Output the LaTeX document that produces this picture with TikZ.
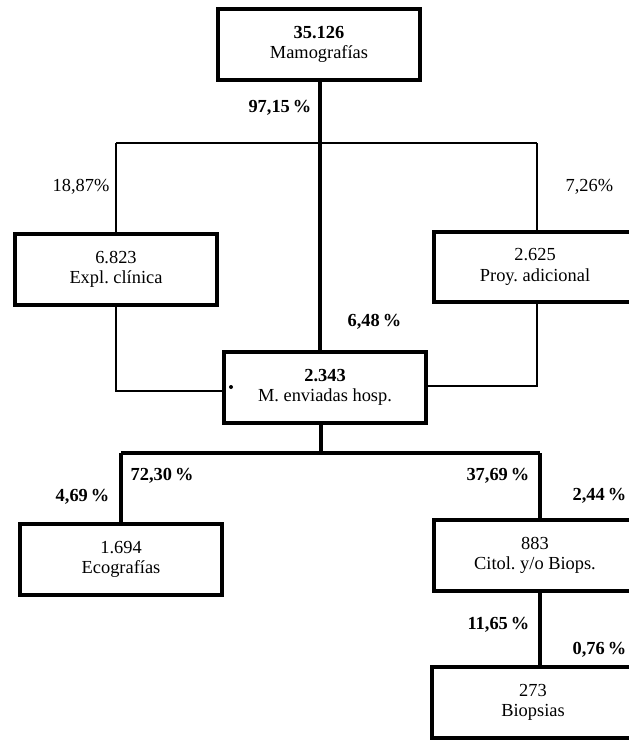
\documentclass[tikz,border=0pt]{standalone}
\usepackage{fontspec}
\setmainfont{Liberation Serif}
\usetikzlibrary{positioning}
\frenchspacing

\begin{document}
\begin{tikzpicture}[x=0.75pt,y=-0.75pt,
  box/.style={draw, line width=3pt, minimum width=151.5pt,
              minimum height=53pt, align=center, inner sep=0pt,
              font=\fontsize{13.8}{15.5}\selectfont},
  thinline/.style={line width=1.2pt},
  thickline/.style={line width=3pt},
  pct/.style={inner sep=1pt, font=\fontsize{13.8}{15}\selectfont},
  bpct/.style={pct, font=\fontsize{13.8}{15}\selectfont\bfseries}
]
\useasboundingbox (0,0) rectangle (629,740);
\clip (0,0) rectangle (629,740);
% boxes
\node[box] (mamo)  at (319,44.5)  {\textbf{35.126}\\Mamografías};
\node[box] (expl)  at (116,269.5) {6.823\\Expl. clínica};
\node[box] (proy)  at (535,267)   {2.625\\Proy. adicional};
\node[box] (hosp)  at (325,387.5) {\textbf{2.343}\\M. enviadas hosp.};
\node[box] (eco)   at (121,559.5) {1.694\\Ecografías};
\node[box] (citol) at (535,555.5) {883\\Citol. y/o Biops.};
\node[box] (biop)  at (533,702.5) {273\\Biopsias};
\fill (231,387) circle (2);
% junctions
\coordinate (top)  at (320,143);
\coordinate (topl) at (116,143);
\coordinate (topr) at (537,143);
\coordinate (bot)  at (321,453);
\coordinate (botl) at (121,453);
\coordinate (botr) at (540,453);
% connectors
\draw[thickline] (mamo.south -| top) -- (hosp.north -| top);
\draw[thinline] (topl) -- (topr);
\draw[thinline] (topl) -- (expl.north);
\draw[thinline] (topr) -- (proy.north -| topr);
\draw[thinline] (expl.south) |- (hosp.west |- 0,391);
\draw[thinline] (proy.south -| topr) |- (hosp.east |- 0,386);
\draw[thickline] (hosp.south -| bot) -- (bot);
\draw[thickline] (botl) -- (botr);
\draw[thickline] (botl) -- (eco.north);
\draw[thickline] (botr) -- (citol.north -| botr);
\draw[thickline] (citol.south -| botr) -- (biop.north -| botr);
% percentages
\node[bpct, anchor=east] (p9715) at (313,108) {97,15\,\%};
\node[pct, anchor=east]  (p1887) at (111,187) {18,87\%};
\node[pct, anchor=west]  (p726)  at (564,187) {7,26\%};
\node[bpct, anchor=west] (p648)  at (346,322) {6,48\,\%};
\node[bpct, anchor=west] (p7230) at (129,476) {72,30\,\%};
\node[bpct, anchor=east] (p3769) at (531,476) {37,69\,\%};
\node[bpct, anchor=east] (p469)  at (111,497) {4,69\,\%};
\node[bpct, anchor=west] (p244)  at (571,496) {2,44\,\%};
\node[bpct, anchor=east] (p1165) at (531,625) {11,65\,\%};
\node[bpct, anchor=west] (p076)  at (571,650) {0,76\,\%};
\end{tikzpicture}
\end{document}
